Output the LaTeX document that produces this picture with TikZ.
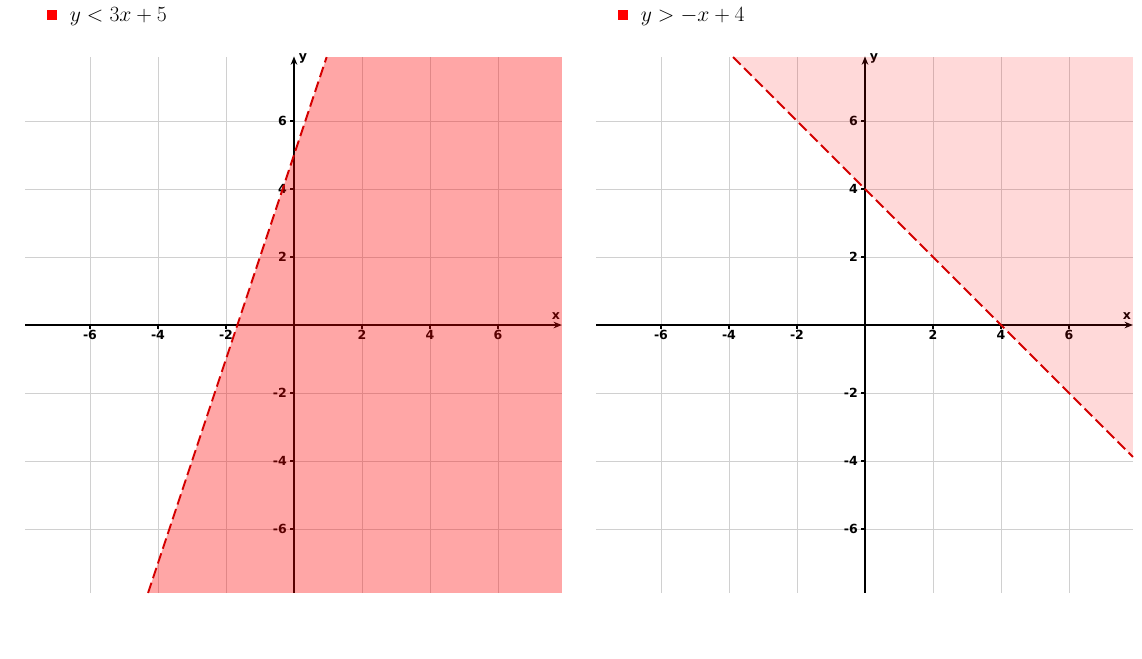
\documentclass[tikz,border=0pt]{standalone}
\usepackage{fontspec}
\newfontfamily\ticksans{DejaVu Sans}
\usepackage{tikz}
\usetikzlibrary{arrows.meta}
\definecolor{bred}{HTML}{D40000}
\definecolor{sqred}{HTML}{FF0000}
\definecolor{gridgray}{HTML}{D0D0D0}

\begin{document}
\begin{tikzpicture}[
      gridline/.style={gridgray,line width=0.8pt},
      axis/.style={black,line width=1.5pt,-{Stealth[length=7pt,width=5.5pt]}},
      tickmark/.style={black,line width=1pt},
      boundary/.style={bred,line width=1.6pt,dash pattern=on 9pt off 4pt},
      shadedark/.style={fill=red,fill opacity=0.35},
      shadelight/.style={fill=red,fill opacity=0.15},
      ticklabel/.style={font=\ticksans\bfseries\fontsize{10.5}{12}\selectfont,inner sep=1pt},
      legendbox/.style={fill=sqred,minimum size=0.29cm,inner sep=0pt},
      legendtext/.style={font=\LARGE,anchor=base west,inner sep=0pt,scale=1.05,transform shape}
    ]

    \useasboundingbox (-8.647,-9.794) rectangle (24.941,9.559);

    % grid, axes and labels of both plots
    \foreach \side/\sx in {l/0,r/16.794} {
      \begin{scope}[xshift=\sx cm]
        \foreach \k in {-6,-4,-2,2,4,6} {
          \draw[gridline] (\k,-7.88) -- (\k,7.88);
          \draw[gridline] (-7.9,\k) -- (7.88,\k);
        }
        \draw[axis] (-7.9,0) -- (7.88,0);
        \draw[axis] (0,-7.88) -- (0,7.9);
        \foreach \k in {-6,-4,-2,2,4,6} {
          \draw[tickmark] (\k,0) -- (\k,-0.12);
          \draw[tickmark] (0,\k) -- (-0.12,\k);
          \node[ticklabel] (\side x\k) at (\k,-0.28) {\k};
          \node[ticklabel,anchor=east] (\side y\k) at (-0.17,\k) {\k};
        }
        \node[ticklabel] (\side xname) at (7.7,0.26) {x};
        \node[ticklabel] (\side yname) at (0.26,7.85) {y};
      \end{scope}
    }

    % left plot: y < 3x + 5
    \fill[shadedark] (0.96,7.88) -- (7.88,7.88) -- (7.88,-7.88) -- (-4.293,-7.88) -- cycle;
    \draw[boundary] (-4.293,-7.88) -- (0.96,7.88);
    \node[legendbox] (lkey) at (-7.12,9.12) {};
    \node[legendtext] (llegend) at (-6.6,8.94) {$y<3x+5$};

    % right plot: y > -x + 4
    \begin{scope}[xshift=16.794cm]
      \fill[shadelight] (-3.88,7.88) -- (7.88,7.88) -- (7.88,-3.88) -- cycle;
      \draw[boundary] (-3.88,7.88) -- (7.88,-3.88);
      \node[legendbox] (rkey) at (-7.12,9.12) {};
      \node[legendtext] (rlegend) at (-6.6,8.94) {$y>-x+4$};
    \end{scope}

  \end{tikzpicture}
\end{document}
